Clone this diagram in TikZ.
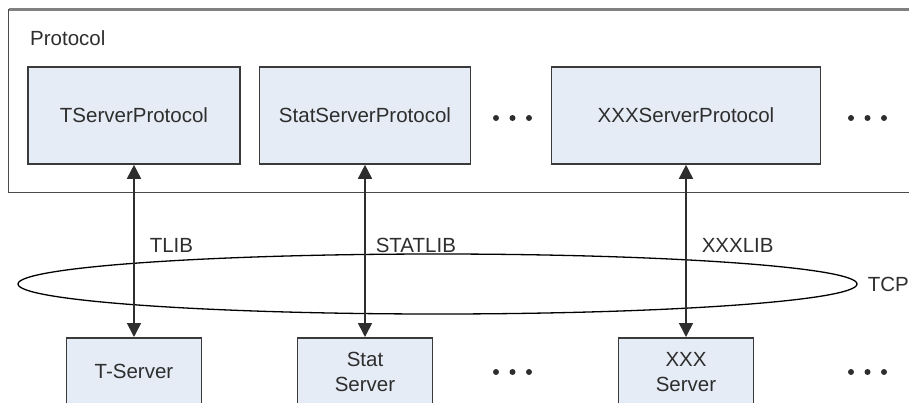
\documentclass[tikz,border=0pt]{standalone}
\usepackage{fontspec}
\setmainfont{Liberation Sans}
\usepackage{tikz}
\usetikzlibrary{arrows.meta,shapes.geometric}
\definecolor{boxfill}{HTML}{E6ECF6}
\definecolor{boxline}{HTML}{3A3A3A}
\definecolor{frameline}{HTML}{4A4A4A}
\definecolor{inktext}{HTML}{2E2E2E}
\newcommand*{\DotsRow}[2]{% #1 = list of x, #2 = y
\foreach \x in {#1} {
\foreach \d in {-16.5,0,16.5} {
\fill [inktext] (\x+\d,#2) circle (3pt);
}%
}%
}
\tikzset{
  protobox/.style={draw=boxline, fill=boxfill, line width=1.6pt, minimum height=97pt, inner sep=0pt},
  serverbox/.style={draw=boxline, fill=boxfill, line width=1.6pt, minimum width=135pt, minimum height=68pt,
    align=center, inner sep=0pt},
  link/.style={{Triangle[length=14pt,width=14pt]}-{Triangle[length=14pt,width=14pt]}, line width=1.6pt, draw=inktext},
  lib/.style={right=#1, inner sep=2pt, pos=0.47},
  lib/.default=13pt,
}

\begin{document}
\begin{tikzpicture}[x=1pt,y=-1pt,font=\fontsize{20.5}{25}\selectfont,text=inktext]

            \useasboundingbox (0,0) rectangle (909,402);
            \clip (0,0) rectangle (909,402);

            % frame round the protocol layer
            \draw [draw=frameline, line width=1.6pt] (8.5,9.5) rectangle (940,192.5);
            \draw [draw=gray, line width=2.5pt] (8.5,9.5) -- (940,9.5);
            \node [anchor=west, inner sep=2pt] (layer) at (28,38) {Protocol};

            \foreach \name/\x/\w/\text in {tsp/134/212/TServerProtocol,
                ssp/365/211/StatServerProtocol,xsp/686/269/XXXServerProtocol} {
                \node [protobox, minimum width=\w] (\name) at (\x,115.5) {\text};
            }
            \foreach \name/\x/\text in {tsv/134/{T-Server},
                ssv/365/{Stat\\Server},xsv/686/{XXX\\Server}} {
                \node [serverbox, anchor=north] (\name) at (\x,337) {\text};
            }

            \node [ellipse, draw=black, line width=1.3pt, minimum width=839pt, minimum height=60pt,
                inner sep=0pt] (tcp) at (437.5,284) {};
            \node [right=8pt, inner sep=2pt] (tcplabel) at (tcp.east) {TCP};

            \draw [link] (tsp) -- (tsv) node [lib] (tlib) {TLIB};
            \draw [link] (ssp) -- (ssv) node [lib=8pt] (statlib) {STATLIB};
            \draw [link] (xsp) -- (xsv) node [lib] (xxxlib) {XXXLIB};

            \DotsRow{512.5,867.5}{118}
            \DotsRow{512.5,867.5}{372}

        \end{tikzpicture}
\end{document}
